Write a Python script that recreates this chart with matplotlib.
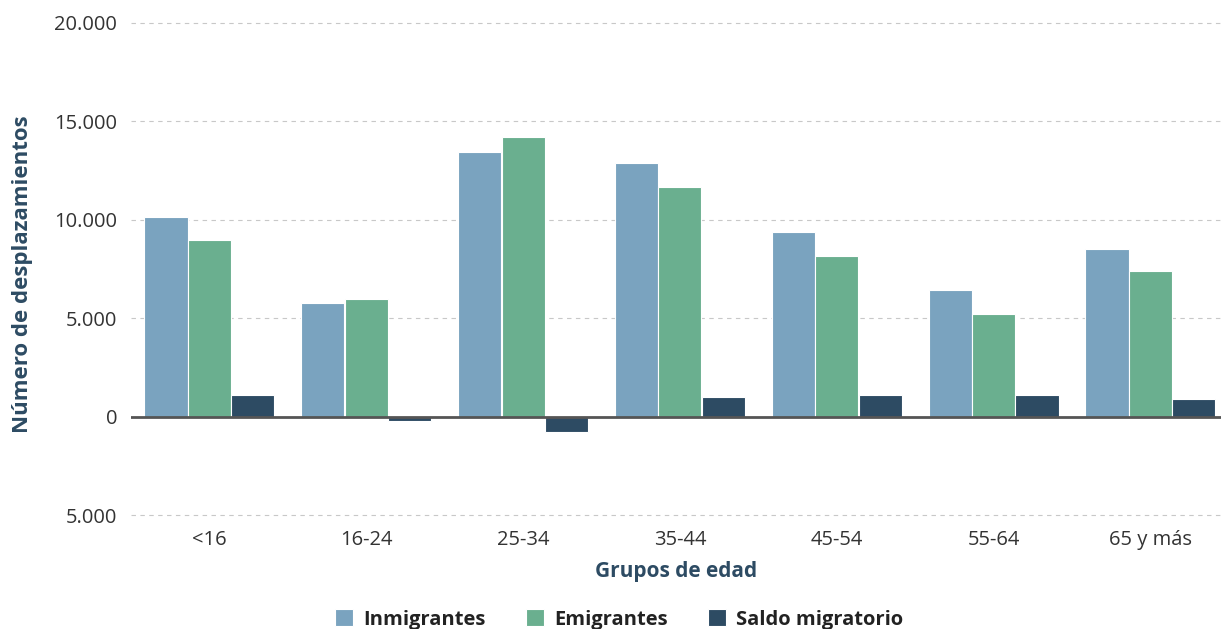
import numpy as np
import matplotlib
matplotlib.use('agg')
import matplotlib.pyplot as plt
from matplotlib.ticker import FuncFormatter

plt.rcParams['font.family'] = ['Open Sans', 'DejaVu Sans']

grupos = ['<16', '16-24', '25-34', '35-44', '45-54', '55-64', '65 y más']
inmigrantes = [10150, 5750, 13450, 12900, 9380, 6420, 8500]
emigrantes = [8950, 5970, 14220, 11680, 8160, 5220, 7400]
saldo = [1100, -200, -800, 1000, 1100, 1100, 900]

series = [('Inmigrantes', inmigrantes, '#7aa3bf'),
          ('Emigrantes', emigrantes, '#6aaf8f'),
          ('Saldo migratorio', saldo, '#2d4b63')]

fig = plt.figure(figsize=(12.21, 6.29), dpi=100)
ax = fig.add_axes([131 / 1221, 1 - 525 / 629, 1090 / 1221, (525 - 13) / 629])

x = np.arange(len(grupos))
width = 0.275
for i, (name, vals, color) in enumerate(series):
    ax.bar(x + (i - 1) * 0.277, vals, width, color=color, label=name,
           edgecolor='white', linewidth=0.8, zorder=3)

ax.set_ylim(-5500, 20500)
ax.set_xlim(-0.5, 6.45)
ax.set_yticks([-5000, 0, 5000, 10000, 15000, 20000])
ax.yaxis.set_major_formatter(FuncFormatter(lambda v, p: f'{abs(int(v)):,}'.replace(',', '.')))
ax.grid(axis='y', color='#c8c8c8', linestyle=(0, (4, 4)), linewidth=0.8, zorder=0)
ax.axhline(0, color='#555555', linewidth=2, zorder=4)
for s in ax.spines.values():
    s.set_visible(False)
ax.tick_params(axis='both', length=0, labelsize=14.5, colors='#333333')
ax.tick_params(axis='y', pad=10)
ax.set_xticks(x)
ax.set_xticklabels(grupos)

ax.set_xlabel('Grupos de edad', fontsize=15, fontweight='bold', color='#2d4b63', labelpad=8)
ax.set_ylabel('Número de desplazamientos', fontsize=16, fontweight='bold', color='#2d4b63')
ax.yaxis.set_label_coords(-98 / 1090, 0.49)

fig.legend(loc='lower center', bbox_to_anchor=(0.507, -0.03), ncol=3, frameon=False,
           prop={'size': 14.5, 'weight': 'bold'}, handlelength=0.9, handleheight=0.9,
           columnspacing=2.0, handletextpad=0.5, labelcolor='#222222')

fig.savefig('out.png', dpi=100)
